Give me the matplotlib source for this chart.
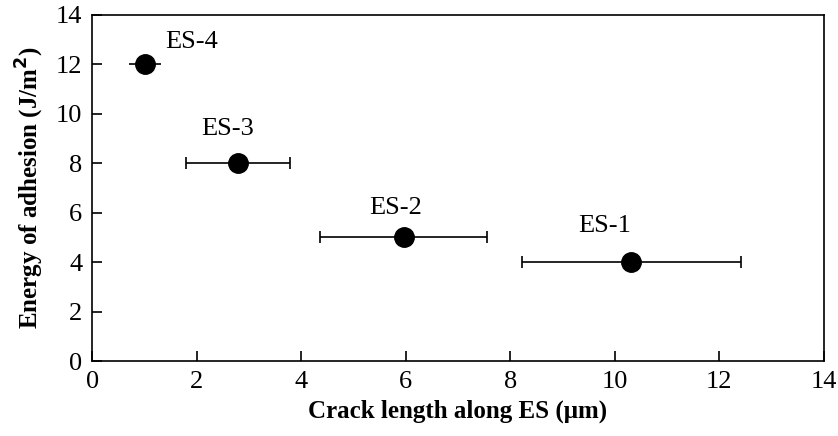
import matplotlib.pyplot as plt

# crack length (um) with spread, and adhesion energy (J/m^2)
labels = ['ES-1', 'ES-2', 'ES-3', 'ES-4']
crack_len = [10.32, 5.96, 2.79, 1.01]
crack_err = [2.1, 1.6, 1.0, 0.3]
energy = [4.02, 5.0, 8.0, 12.02]
label_xy = [(9.8, 5.45), (5.8, 6.2), (2.6, 9.4), (1.9, 12.9)]
caps = [4, 4, 4, 0]

plt.rcParams['font.family'] = ['Liberation Serif', 'DejaVu Serif']

fig = plt.figure(figsize=(8.38, 4.36), dpi=100)
ax = fig.add_axes([0.110, 0.172, 0.873, 0.794])

for x, y, err, cap in zip(crack_len, energy, crack_err, caps):
    ax.errorbar(x, y, xerr=err, fmt='o', color='black', markersize=14,
                ecolor='black', elinewidth=1.2, capsize=cap, capthick=1.2)

for name, (tx, ty) in zip(labels, label_xy):
    ax.text(tx, ty, name, fontsize=19, ha='center', va='center')

ax.set_xlim(0, 14)
ax.set_ylim(0, 14)
ax.set_xticks(range(0, 15, 2))
ax.set_yticks(range(0, 15, 2))
ax.tick_params(direction='in', length=7, width=1.2, labelsize=19, pad=7,
               top=False, right=False)
for sp in ax.spines.values():
    sp.set_linewidth(1.2)

ax.set_xlabel('Crack length along ES (\u03bcm)', fontsize=18, fontweight='bold',
              labelpad=5)
ax.set_ylabel('Energy of adhesion (J/m$^\\mathbf{2}$)', fontsize=18,
              fontweight='bold', labelpad=7)

fig.savefig('out.png', dpi=100)
